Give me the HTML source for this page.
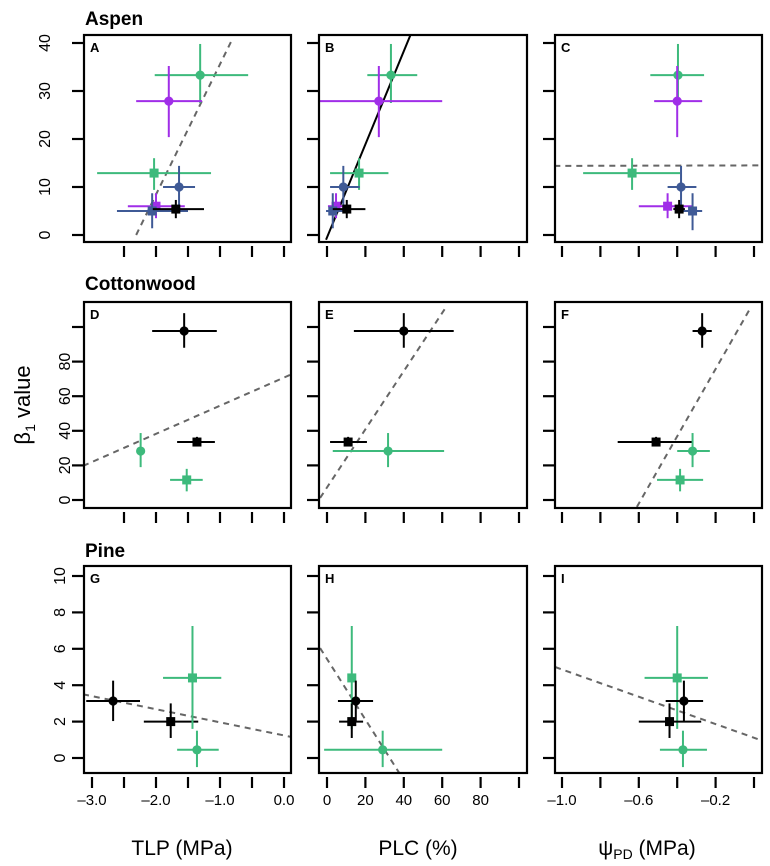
<!DOCTYPE html>
<html><head><meta charset="utf-8"><style>
html,body{margin:0;padding:0;background:#fff}
svg{display:block;font-family:"Liberation Sans",sans-serif}
</style></head><body>
<svg id="chart" width="770" height="866" viewBox="0 0 770 866" xmlns="http://www.w3.org/2000/svg">
<text x="85" y="25" font-size="19" font-weight="bold">Aspen</text>
<text x="85" y="290" font-size="19" font-weight="bold">Cottonwood</text>
<text x="85" y="557" font-size="19" font-weight="bold">Pine</text>
<text transform="translate(30,405) rotate(-90)" text-anchor="middle" font-size="22">β<tspan font-size="14" dy="5">1</tspan><tspan dy="-5"> value</tspan></text>
<text x="182" y="855" text-anchor="middle" font-size="21">TLP (MPa)</text>
<text x="418" y="855" text-anchor="middle" font-size="21">PLC (%)</text>
<text x="647" y="855" text-anchor="middle" font-size="21">ψ<tspan font-size="14" dy="4">PD</tspan><tspan dy="-4"> (MPa)</tspan></text>
<g id="plots"></g>
</svg>
<script>
// ---- data (x, xlo, xhi, y, ylo, yhi) ----
const aspenTLP = [
 {s:'gc',x:-1.31,xl:-2.02,xh:-0.56,y:33.3,yl:27.5,yh:39.8},
 {s:'pc',x:-1.80,xl:-2.31,xh:-1.28,y:27.9,yl:20.4,yh:35.2},
 {s:'gs',x:-2.03,xl:-2.92,xh:-1.14,y:12.9,yl:9.4,yh:16},
 {s:'bc',x:-1.64,xl:-1.89,xh:-1.39,y:10,yl:5.6,yh:14.4},
 {s:'ps',x:-2.0,xl:-2.44,xh:-1.55,y:6.0,yl:3.5,yh:8.7},
 {s:'bs',x:-2.06,xl:-2.61,xh:-1.5,y:5.0,yl:1.4,yh:8.7},
 {s:'ks',x:-1.69,xl:-2.05,xh:-1.25,y:5.4,yl:3.5,yh:7.3}];
const aspenPLC = [
 {s:'gc',x:33.3,xl:21,xh:47,y:33.3,yl:27.5,yh:39.8},
 {s:'pc',x:27,xl:-4,xh:60,y:27.9,yl:20.4,yh:35.2},
 {s:'gs',x:16.7,xl:1.6,xh:32,y:12.9,yl:9.4,yh:16},
 {s:'bc',x:8.5,xl:1.6,xh:17,y:10,yl:5.6,yh:14.4},
 {s:'ps',x:4.7,xl:0.5,xh:8.5,y:6.0,yl:3.5,yh:8.7},
 {s:'bs',x:3,xl:-0.5,xh:8.5,y:5.0,yl:1.4,yh:8.7},
 {s:'ks',x:10.3,xl:3,xh:20,y:5.4,yl:3.5,yh:7.3}];
const aspenPSI = [
 {s:'gc',x:-0.396,xl:-0.54,xh:-0.26,y:33.3,yl:27.5,yh:39.8},
 {s:'pc',x:-0.40,xl:-0.52,xh:-0.27,y:27.9,yl:20.4,yh:35.2},
 {s:'gs',x:-0.635,xl:-0.89,xh:-0.385,y:12.9,yl:9.4,yh:16},
 {s:'bc',x:-0.38,xl:-0.45,xh:-0.30,y:10,yl:5.6,yh:14.4},
 {s:'ps',x:-0.45,xl:-0.6,xh:-0.32,y:6.0,yl:3.5,yh:8.7},
 {s:'bs',x:-0.32,xl:-0.4,xh:-0.27,y:5.0,yl:1.0,yh:8.7},
 {s:'ks',x:-0.39,xl:-0.42,xh:-0.36,y:5.4,yl:3.5,yh:7.3}];
const cottonTLP = [
 {s:'kc',x:-1.56,xl:-2.06,xh:-1.05,y:97.7,yl:88,yh:108},
 {s:'ks',x:-1.36,xl:-1.67,xh:-1.08,y:33.5,yl:31,yh:36.5},
 {s:'gc',x:-2.24,xl:-2.27,xh:-2.21,y:28.3,yl:19,yh:38.7},
 {s:'gs',x:-1.52,xl:-1.78,xh:-1.27,y:11.6,yl:5,yh:18}];
const cottonPLC = [
 {s:'kc',x:40,xl:14,xh:66,y:97.7,yl:88,yh:108},
 {s:'ks',x:11,xl:1.6,xh:20.8,y:33.5,yl:31,yh:36.5},
 {s:'gc',x:31.8,xl:3,xh:61,y:28.3,yl:19,yh:38.7}];
const cottonPSI = [
 {s:'kc',x:-0.27,xl:-0.32,xh:-0.22,y:97.7,yl:88,yh:108},
 {s:'ks',x:-0.51,xl:-0.71,xh:-0.32,y:33.5,yl:31,yh:36.5},
 {s:'gc',x:-0.32,xl:-0.40,xh:-0.23,y:28.3,yl:19,yh:38.7},
 {s:'gs',x:-0.385,xl:-0.505,xh:-0.265,y:11.6,yl:5,yh:18}];
const pineTLP = [
 {s:'kc',x:-2.67,xl:-3.09,xh:-2.25,y:3.13,yl:2.03,yh:4.25},
 {s:'ks',x:-1.77,xl:-2.19,xh:-1.34,y:2.0,yl:1.1,yh:3.0},
 {s:'gs',x:-1.43,xl:-1.89,xh:-0.98,y:4.4,yl:1.6,yh:7.25},
 {s:'gc',x:-1.36,xl:-1.67,xh:-1.02,y:0.45,yl:-0.5,yh:1.5}];
const pinePLC = [
 {s:'gs',x:12.9,xl:11.4,xh:14.4,y:4.4,yl:1.6,yh:7.25},
 {s:'kc',x:15,xl:5.7,xh:24,y:3.13,yl:2.03,yh:4.25},
 {s:'ks',x:12.9,xl:6.3,xh:18.8,y:2.0,yl:1.1,yh:3.0},
 {s:'gc',x:29,xl:-1.5,xh:60,y:0.45,yl:-0.5,yh:1.5}];
const pinePSI = [
 {s:'gs',x:-0.40,xl:-0.57,xh:-0.24,y:4.4,yl:1.6,yh:7.25},
 {s:'kc',x:-0.365,xl:-0.46,xh:-0.265,y:3.13,yl:2.03,yh:4.25},
 {s:'ks',x:-0.44,xl:-0.60,xh:-0.275,y:2.0,yl:1.1,yh:3.0},
 {s:'gc',x:-0.37,xl:-0.49,xh:-0.245,y:0.45,yl:-0.5,yh:1.5}];
// regression lines: [x1,y1,x2,y2]
const fitA = [-2.31,0,-0.83,40.2];
const fitB = [-0.5,-1,43.5,41.7];
const fitC = [-1.04,14.4,0.03,14.5];
const fitD = [-3.14,19.7,0.125,72.8];
const fitE = [-3.6,1.2,62,111.5];
const fitF = [-0.61,-4,-0.016,111.5];
const fitG = [-3.14,3.5,0.125,1.15];
const fitH = [-3.6,6.04,37.5,-0.8];
const fitI = [-1.036,5.0,0.03,1.0];
const yTicksRow = [[0,10,20,30,40],[0,20,40,60,80,100],[0,2,4,6,8,10]];
const yTickLabelsRow = [['0','10','20','30','40'],['0','20','40','60','80',''],['0','2','4','6','8','10']];
const xTicksTLPTop = [-2.5,-2,-1.5,-1,-0.5,0];
const xTicksTLP = [-3,-2.5,-2,-1.5,-1,-0.5,0];
const xLabelsTLP = [[-3,'–3.0'],[-2,'–2.0'],[-1,'–1.0'],[0,'0.0']];
const xTicksPLC = [0,20,40,60,80,100];
const xLabelsPLC = [[0,'0'],[20,'20'],[40,'40'],[60,'60'],[80,'80']];
const xTicksPSI = [-1,-0.8,-0.6,-0.4,-0.2,0];
const xLabelsPSI = [[-1,'–1.0'],[-0.6,'–0.6'],[-0.2,'–0.2']];

const NS='http://www.w3.org/2000/svg';
const root=document.getElementById('plots');
const colors={k:'#000',g:'#3dba7c',p:'#a02ee8',b:'#3f5a96'};
const colBox=[[84,291],[319,527],[555,762]];
const rowBox=[[35,242],[302,508],[566,773]];
const xScales=[v=>92+64*(v+3), v=>327+1.92*v, v=>562+192*(v+1)];
const yScales=[v=>235-4.8*v, v=>500-1.73*v, v=>758-18.2*v];
const yLabelX=[45,65,60];
function mk(tag,attrs,parent){const e=document.createElementNS(NS,tag);for(const k in attrs)e.setAttribute(k,attrs[k]);parent.appendChild(e);return e;}
const panels=[
 ['A',0,0,aspenTLP,fitA,'dash'],['B',0,1,aspenPLC,fitB,'solid'],['C',0,2,aspenPSI,fitC,'dash'],
 ['D',1,0,cottonTLP,fitD,'dash'],['E',1,1,cottonPLC,fitE,'dash'],['F',1,2,cottonPSI,fitF,'dash'],
 ['G',2,0,pineTLP,fitG,'dash'],['H',2,1,pinePLC,fitH,'dash'],['I',2,2,pinePSI,fitI,'dash']];
panels.forEach(([letter,r,c,pts,fit,style])=>{
 const [x0,x1]=colBox[c],[y0,y1]=rowBox[r],sx=xScales[c],sy=yScales[r];
 const g=mk('g',{},root);
 
 
 const cid='clip'+letter;
 const cp=mk('clipPath',{id:cid},g);mk('rect',{x:x0,y:y0,width:x1-x0,height:y1-y0},cp);
 // y ticks
 yTicksRow[r].forEach((t,i)=>{
  const y=sy(t);
  const tk=mk('line',{x1:x0-12,x2:x0,y1:y,y2:y,stroke:'#000','stroke-width':2.2},g);
  
  
  if(c===0&&yTickLabelsRow[r][i]){
   const tl=mk('text',{transform:`translate(${yLabelX[r]+5},${y}) rotate(-90)`,'text-anchor':'middle','font-size':16},g);
   tl.textContent=yTickLabelsRow[r][i];
   
   
  }
 });
 // x ticks
 let xt=c===0?(r===2?xTicksTLP:xTicksTLPTop):(c===1?xTicksPLC:xTicksPSI);
 xt.forEach(t=>{const x=sx(t);const tk=mk('line',{x1:x,x2:x,y1:y1+4,y2:y1+15,stroke:'#000','stroke-width':2.2},g);
  
  });
 if(r===2){
  const lab=c===0?xLabelsTLP:(c===1?xLabelsPLC:xLabelsPSI);
  lab.forEach(([v,s])=>{const tl=mk('text',{x:sx(v),y:y1+32,'text-anchor':'middle','font-size':15},g);tl.textContent=s;
   
   });
 }
 const inner=mk('g',{'clip-path':`url(#${cid})`},g);
 const fl=mk('line',{x1:sx(fit[0]),y1:sy(fit[1]),x2:sx(fit[2]),y2:sy(fit[3]),stroke:style==='solid'?'#000':'#666','stroke-width':2,'stroke-dasharray':style==='solid'?'none':'6 5'},inner);
 
 
 pts.forEach(p=>{
  const col=colors[p.s[0]];
  const pg=mk('g',{stroke:col,fill:col,'stroke-width':2},inner);
  
  
  const cx=sx(p.x),cy=sy(p.y);
  mk('line',{x1:sx(p.xl),x2:sx(p.xh),y1:cy,y2:cy},pg);
  mk('line',{x1:cx,x2:cx,y1:sy(p.yl),y2:sy(p.yh)},pg);
  if(p.s[1]==='c') mk('circle',{cx:cx,cy:cy,r:4.6,stroke:'none'},pg);
  else mk('rect',{x:cx-4.5,y:cy-4.5,width:9,height:9,stroke:'none'},pg);
 });
 const box=mk('rect',{x:x0,y:y0,width:x1-x0,height:y1-y0,fill:'none',stroke:'#000','stroke-width':2.2},g);
 
 
 const lt=mk('text',{x:x0+6,y:y0+17,'font-size':13,'font-weight':'bold'},g);
 lt.textContent=letter;
 
 
});
</script>
</body></html>
